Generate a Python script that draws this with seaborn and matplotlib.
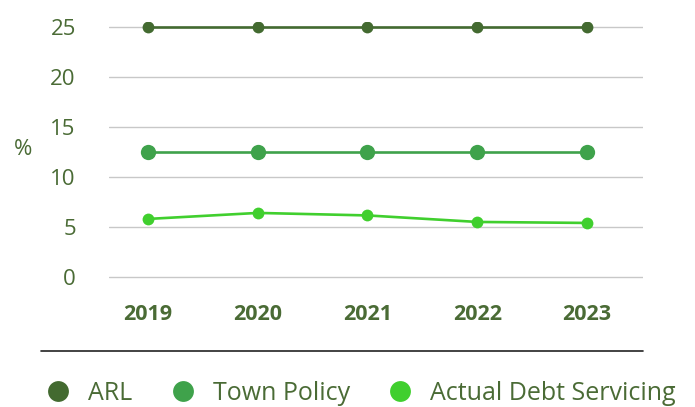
import pandas as pd
import matplotlib.pyplot as plt
import seaborn as sns
from matplotlib.lines import Line2D

# ---------------------------
# DATA
# ---------------------------
years = ["2019", "2020", "2021", "2022", "2023"]
arl = [25, 25, 25, 25, 25]
town_policy = [12.5, 12.5, 12.5, 12.5, 12.5]
actual_debt = [5.8, 6.4, 6.15, 5.5, 5.4]

series_names = ["ARL", "Town Policy", "Actual Debt Servicing"]
colors = ["#436a30", "#3fa24b", "#40cf2e"]
marker_sizes = [8.5, 11, 8.5]

df = pd.DataFrame({
    "Year": years * 3,
    "Value": arl + town_policy + actual_debt,
    "Series": [s for s in series_names for _ in years],
})
df["x"] = df["Year"].map({y: i for i, y in enumerate(years)})

# ---------------------------
# PLOT
# ---------------------------
sns.set_style("white")
plt.rcParams["font.family"] = ["Open Sans", "DejaVu Sans"]
text_col = "#4a6b35"

fig = plt.figure(figsize=(6.95, 4.07), dpi=100)
ax = fig.add_axes([0.157, 0.307, 0.768, 0.64])

for name, col, ms in zip(series_names, colors, marker_sizes):
    sub = df[df["Series"] == name]
    sns.lineplot(data=sub, x="x", y="Value", ax=ax, color=col, linewidth=1.9,
                 marker="o", markersize=ms, markeredgewidth=0, zorder=3)

ax.set_xlim(-0.355, 4.51)
ax.set_ylim(-0.5, 25.5)
ax.set_yticks([0, 5, 10, 15, 20, 25])
ax.set_xticks(range(len(years)))
ax.set_xticklabels(years, fontsize=15.5, fontweight="bold", color=text_col)
ax.tick_params(axis="y", labelsize=16, labelcolor=text_col, length=0, pad=24)
ax.tick_params(axis="x", length=0, pad=16)
ax.yaxis.grid(True, color="#c8c8c8", linewidth=1)
for sp in ax.spines.values():
    sp.set_visible(False)
ax.set_xlabel("")
ax.set_ylabel("%", fontsize=16, color=text_col, rotation=0)
ax.yaxis.set_label_coords(-0.162, 0.47)

# separator line
fig.add_artist(Line2D([41 / 695, 643 / 695], [1 - 351 / 407] * 2,
                      color="#222222", linewidth=1.2))

handles = [Line2D([0], [0], marker="o", linestyle="", markersize=15,
                  markerfacecolor=c, markeredgewidth=0) for c in colors]
leg = fig.legend(handles, series_names, loc="center left", bbox_to_anchor=(0.03, 1 - 393 / 407),
                 ncol=3, frameon=False, fontsize=18, handletextpad=0.2,
                 columnspacing=1.0, labelcolor=text_col, borderpad=0)

fig.savefig("out.png", dpi=100)
